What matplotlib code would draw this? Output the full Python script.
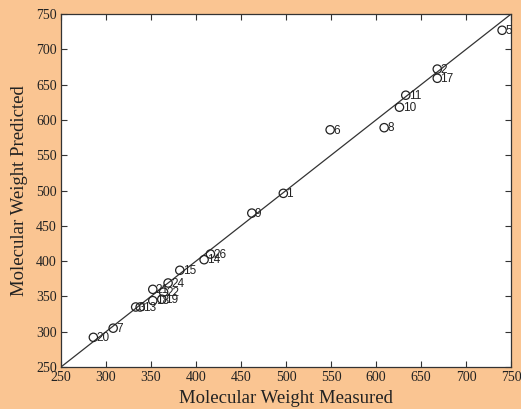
import numpy as np
import matplotlib.pyplot as plt

# measured vs predicted molecular weight
labels = ['1', '2', '3', '24', '5', '6', '7', '8', '9', '10', '11', '13', '14',
          '15', '26', '17', '18', '19', '20', '21', '22']
measured = [497, 668, 333, 369, 740, 549, 308, 609, 462, 626, 633, 338, 409,
            382, 416, 668, 352, 362, 286, 352, 364]
predicted = [496, 672, 335, 369, 727, 586, 305, 589, 468, 618, 635, 335, 402,
             387, 410, 659, 344, 346, 292, 360, 356]

ticks = [250, 300, 350, 400, 450, 500, 550, 600, 650, 700, 750]

bg = '#FAC592'
fig = plt.figure(figsize=(5.21, 4.09), dpi=100, facecolor=bg)
ax = fig.add_axes([0.117, 0.1027, 0.864, 0.863])

ax.plot([250, 750], [250, 750], color='#333333', lw=0.9)
ax.scatter(measured, predicted, s=36, facecolors='none', edgecolors='#222222', lw=0.9, zorder=3)
for x, y, t in zip(measured, predicted, labels):
    ax.text(x + 3.5, y - 1, t, fontsize=8.5, va='center', ha='left', color='#222222',
            family='Liberation Sans')

ax.set_xlim(250, 750)
ax.set_ylim(250, 750)
ax.set_xticks(ticks)
ax.set_yticks(ticks)
ax.tick_params(direction='in', top=True, right=True, length=4, width=0.8,
               labelsize=10, colors='#333333', labelcolor='#222222', pad=3)
for lab in ax.get_xticklabels() + ax.get_yticklabels():
    lab.set_family('Liberation Serif')
for s in ax.spines.values():
    s.set_linewidth(0.9)
    s.set_color('#333333')

ax.set_xlabel('Molecular Weight Measured', family='Liberation Serif', fontsize=13.5,
              color='#222222', labelpad=4)
ax.set_ylabel('Molecular Weight Predicted', family='Liberation Serif', fontsize=13.5,
              color='#222222', labelpad=6)

fig.savefig('out.png', dpi=100, facecolor=bg)
